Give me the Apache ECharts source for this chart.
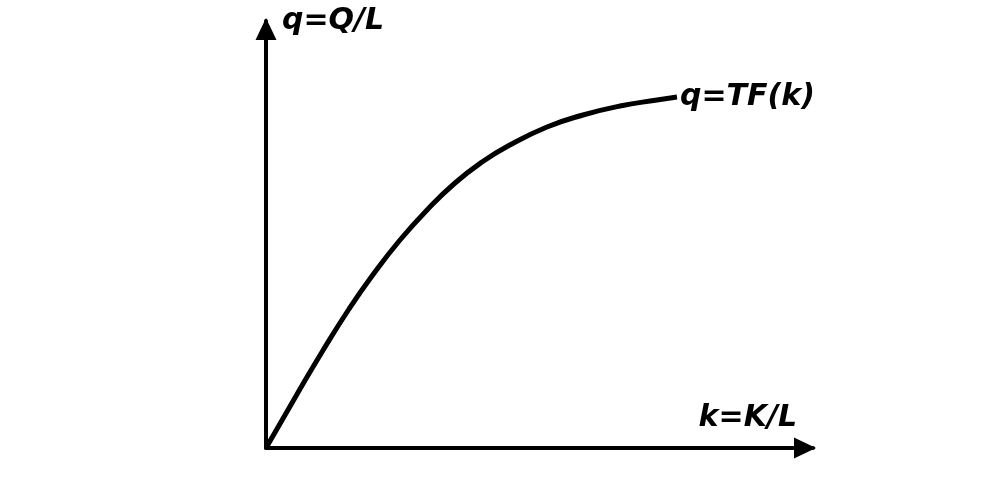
<!DOCTYPE html>
<html><head><meta charset="utf-8">
<script src="https://cdn.jsdelivr.net/npm/echarts@6/dist/echarts.min.js"></script>
<style>html,body{margin:0;padding:0;background:#fff}#c{width:990px;height:495px}</style>
</head><body><div id="c"></div>
<script>
const kValues = [0, 30, 56, 83, 106, 134, 162, 189, 216, 242, 281, 317, 354, 391, 411];
const qValues = [0, 52, 96, 139, 172, 208, 239, 265, 286, 302, 321, 333, 342, 348, 351];
const xName = 'k=K/L';
const yName = 'q=Q/L';
const curveName = 'q=TF(k)';
const data = kValues.map((k, i) => [k, qValues[i]]);
const font = {fontFamily: 'DejaVu Sans', fontWeight: 'bold', fontStyle: 'italic', fontSize: 30, color: '#000'};
const chart = echarts.init(document.getElementById('c'), null, {renderer: 'canvas'});
chart.setOption({
  backgroundColor: '#fff',
  animation: false,
  grid: {left: 266, right: 177, top: 21, bottom: 47},
  xAxis: {
    type: 'value', min: 0, max: 547,
    axisLine: {show: true, lineStyle: {color: '#000', width: 4}, symbol: ['none', 'triangle'], symbolSize: [21, 22], symbolOffset: [0, -8]},
    axisTick: {show: false}, axisLabel: {show: false}, splitLine: {show: false},
    name: xName, nameLocation: 'end', nameGap: -16,
    nameTextStyle: Object.assign({}, font, {align: 'right', verticalAlign: 'bottom', padding: [0, 0, 15, 0]})
  },
  yAxis: {
    type: 'value', min: 0, max: 427,
    axisLine: {show: true, lineStyle: {color: '#000', width: 4}, symbol: ['none', 'triangle'], symbolSize: [21, 22], symbolOffset: [0, -8]},
    axisTick: {show: false}, axisLabel: {show: false}, splitLine: {show: false},
    name: yName, nameLocation: 'end', nameGap: 0,
    nameTextStyle: Object.assign({}, font, {align: 'left', verticalAlign: 'middle', padding: [0, 0, 6, 16]})
  },
  series: [{
    type: 'line', data: data, smooth: 0.5, symbol: 'none',
    lineStyle: {color: '#000', width: 5},
    endLabel: {show: true, formatter: curveName, distance: 3, ...font}
  }]
});
</script></body></html>
